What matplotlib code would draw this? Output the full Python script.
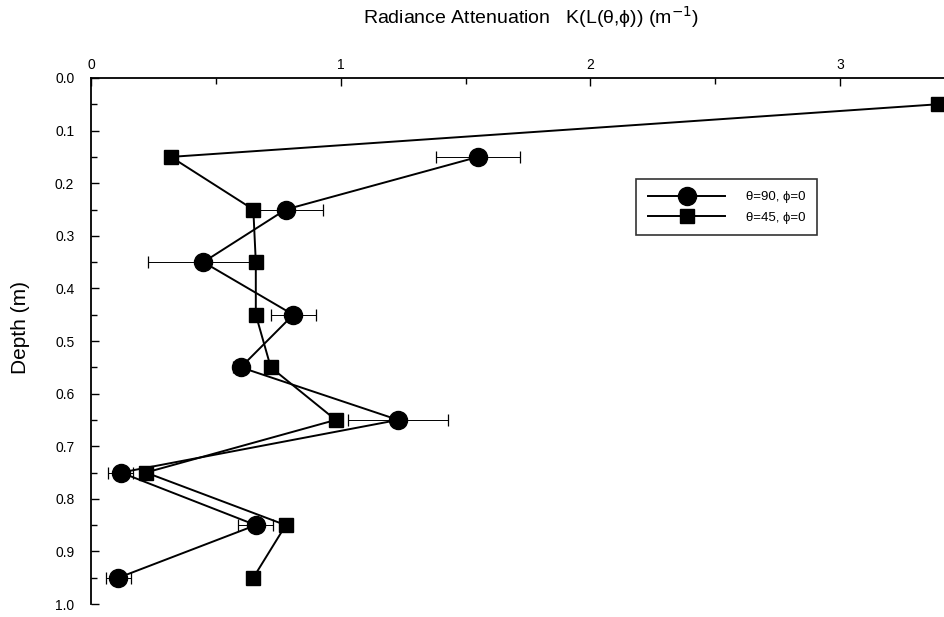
import matplotlib.pyplot as plt

plt.rcParams['font.family'] = ['Liberation Sans', 'DejaVu Sans']

# depths (m)
depth = [0.05, 0.15, 0.25, 0.35, 0.45, 0.55, 0.65, 0.75, 0.85, 0.95]
# theta=90, phi=0 (circles) - no value at 0.05
depth_90 = [0.15, 0.25, 0.35, 0.45, 0.55, 0.65, 0.75, 0.85, 0.95]
k_90 = [1.55, 0.78, 0.45, 0.81, 0.60, 1.23, 0.12, 0.66, 0.11]
err_90 = [0.17, 0.15, 0.22, 0.09, 0.03, 0.20, 0.05, 0.07, 0.05]
# theta=45, phi=0 (squares)
k_45 = [3.39, 0.32, 0.65, 0.66, 0.66, 0.72, 0.98, 0.22, 0.78, 0.65]

fig = plt.figure(figsize=(9.45, 6.17), dpi=100)
ax = fig.add_axes([0.0963, 0.021, 0.9037, 0.8526])

ax.errorbar(k_90, depth_90, xerr=err_90, fmt='none', ecolor='black',
            elinewidth=0.7, capsize=4, capthick=0.9, zorder=2)
ax.plot(k_90, depth_90, '-o', color='black', lw=1.4, ms=13,
        label=u'\u03b8=90, \u03d5=0', zorder=3)
ax.plot(k_45, depth, '-s', color='black', lw=1.4, ms=10,
        label=u'\u03b8=45, \u03d5=0', zorder=3)

ax.set_xlim(0, 3.42)
ax.set_ylim(1.0, 0.0)
ax.xaxis.tick_top()
ax.set_xticks([0, 1, 2, 3])
ax.set_xticks([0.5, 1.5, 2.5], minor=True)
ax.set_yticks([i / 10 for i in range(11)])
ax.set_yticklabels(['%.1f' % (i / 10) for i in range(11)])
ax.set_yticks([0.05 + i / 10 for i in range(10)], minor=True)
ax.tick_params(direction='in', length=6, width=1, labelsize=10)
ax.tick_params(which='minor', direction='in', length=4, width=1)
ax.tick_params(axis='x', pad=4)
ax.tick_params(axis='y', pad=12)
for s in ['right', 'bottom']:
    ax.spines[s].set_visible(False)
for s in ['top', 'left']:
    ax.spines[s].set_linewidth(1.3)

# titre de l'axe x en haut
fig.text(0.562, 0.972, u'Radiance Attenuation   K(L(\u03b8,\u03d5)) (m$^{-1}$)',
         fontsize=14, ha='center', va='center')
ax.set_ylabel('Depth (m)', fontsize=15)
ax.yaxis.set_label_coords(-0.072, 0.525)

leg = ax.legend(loc='upper left', bbox_to_anchor=(0.631, 0.82), fontsize=9.5,
                frameon=True, fancybox=False, edgecolor='black',
                handlelength=5.8, handletextpad=1.6, borderpad=0.9,
                labelspacing=0.6, markerscale=1.0)
leg.get_frame().set_linewidth(1.2)

fig.savefig('out.png')
